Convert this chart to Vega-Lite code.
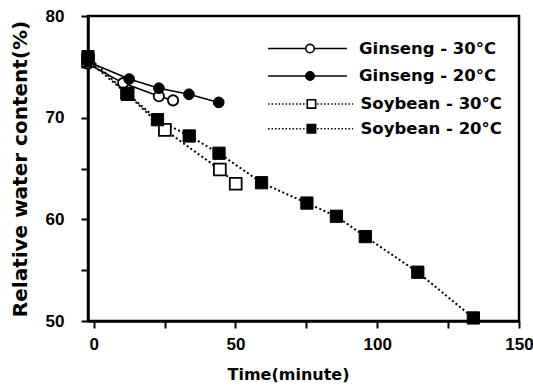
{
  "$schema": "https://vega.github.io/schema/vega-lite/v6.json",
  "width": 431,
  "height": 305,
  "autosize": "none",
  "padding": {"left": 88, "top": 16, "right": 14, "bottom": 71},
  "background": "white",
  "config": {
    "view": {"stroke": "black", "strokeWidth": 2.5},
    "axis": {
      "grid": false,
      "domainColor": "black",
      "domainWidth": 2.5,
      "tickColor": "black",
      "tickWidth": 2,
      "tickSize": 7,
      "labelColor": "black",
      "titleColor": "black",
      "labelFont": "Liberation Sans",
      "labelFontWeight": "bold",
      "labelFontSize": 17,
      "titleFont": "DejaVu Sans",
      "titleFontWeight": "bold"
    }
  },
  "datasets": {
    "obs": [
      {"series": "Ginseng-30", "time": -2, "water": 75.3},
      {"series": "Ginseng-30", "time": 10.4, "water": 73.4},
      {"series": "Ginseng-30", "time": 23, "water": 72.1},
      {"series": "Ginseng-30", "time": 28, "water": 71.7},
      {"series": "Ginseng-20", "time": -2, "water": 75.5},
      {"series": "Ginseng-20", "time": 12.5, "water": 73.8},
      {"series": "Ginseng-20", "time": 23, "water": 72.9},
      {"series": "Ginseng-20", "time": 33.6, "water": 72.3},
      {"series": "Ginseng-20", "time": 44.1, "water": 71.5},
      {"series": "Soybean-30", "time": -2, "water": 75.6},
      {"series": "Soybean-30", "time": 12, "water": 72.3},
      {"series": "Soybean-30", "time": 25.1, "water": 68.8},
      {"series": "Soybean-30", "time": 44.5, "water": 64.9},
      {"series": "Soybean-30", "time": 50.1, "water": 63.5},
      {"series": "Soybean-20", "time": -2, "water": 76.0},
      {"series": "Soybean-20", "time": 11.7, "water": 72.4},
      {"series": "Soybean-20", "time": 22.5, "water": 69.8},
      {"series": "Soybean-20", "time": 33.7, "water": 68.2},
      {"series": "Soybean-20", "time": 44.2, "water": 66.5},
      {"series": "Soybean-20", "time": 59.2, "water": 63.6},
      {"series": "Soybean-20", "time": 75.2, "water": 61.6},
      {"series": "Soybean-20", "time": 85.6, "water": 60.3},
      {"series": "Soybean-20", "time": 95.8, "water": 58.3},
      {"series": "Soybean-20", "time": 114.3, "water": 54.8},
      {"series": "Soybean-20", "time": 133.9, "water": 50.3}
    ],
    "leg": [
      {"series": "Ginseng-30", "part": "line", "time": 61.5, "water": 76.8},
      {"series": "Ginseng-30", "part": "line", "time": 89.3, "water": 76.8},
      {"series": "Ginseng-20", "part": "line", "time": 61.5, "water": 74.1},
      {"series": "Ginseng-20", "part": "line", "time": 89.3, "water": 74.1},
      {"series": "Soybean-30", "part": "line", "time": 61.5, "water": 71.35},
      {"series": "Soybean-30", "part": "line", "time": 91.5, "water": 71.35},
      {"series": "Soybean-20", "part": "line", "time": 61.5, "water": 68.9},
      {"series": "Soybean-20", "part": "line", "time": 91.5, "water": 68.9},
      {"series": "Ginseng-30", "part": "mark", "time": 76.3, "water": 76.8, "label": "Ginseng - 30°C"},
      {"series": "Ginseng-20", "part": "mark", "time": 76.3, "water": 74.1, "label": "Ginseng - 20°C"},
      {"series": "Soybean-30", "part": "mark", "time": 76.8, "water": 71.35, "label": "Soybean - 30°C"},
      {"series": "Soybean-20", "part": "mark", "time": 76.8, "water": 68.9, "label": "Soybean - 20°C"}
    ]
  },
  "encoding": {
    "x": {
      "field": "time",
      "type": "quantitative",
      "scale": {"domain": [-2, 150], "nice": false, "zero": false},
      "axis": {
        "title": "Time(minute)",
        "titleFontSize": 16,
        "titlePadding": 14,
        "titleX": 200,
        "values": [0, 25, 50, 75, 100, 125, 150],
        "labelExpr": "datum.value % 50 == 0 ? datum.label : ''",
        "labelPadding": 8,
        "labelFlush": false
      }
    },
    "y": {
      "field": "water",
      "type": "quantitative",
      "scale": {"domain": [50, 80], "nice": false, "zero": false},
      "axis": {
        "title": "Relative water content(%)",
        "titleFontSize": 20,
        "titlePadding": 15,
        "values": [50, 55, 60, 65, 70, 75, 80],
        "labelExpr": "datum.value % 10 == 0 ? datum.label : ''",
        "labelPadding": 17,
        "labelFlush": false
      }
    }
  },
  "layer": [
    {
      "data": {"name": "obs"},
      "transform": [{"filter": "indexof(datum.series, 'Ginseng') == 0"}],
      "mark": {"type": "line", "color": "black", "strokeWidth": 1.6},
      "encoding": {"detail": {"field": "series"}}
    },
    {
      "data": {"name": "obs"},
      "transform": [{"filter": "indexof(datum.series, 'Soybean') == 0"}],
      "mark": {"type": "line", "color": "black", "strokeWidth": 2, "strokeDash": [2, 2.5]},
      "encoding": {"detail": {"field": "series"}}
    },
    {
      "data": {"name": "obs"},
      "transform": [{"filter": "datum.series == 'Ginseng-30'"}],
      "mark": {"type": "point", "shape": "circle", "filled": true, "fill": "white", "stroke": "black", "strokeWidth": 1.8, "size": 105, "opacity": 1}
    },
    {
      "data": {"name": "obs"},
      "transform": [{"filter": "datum.series == 'Soybean-30'"}],
      "mark": {"type": "point", "shape": "square", "filled": true, "fill": "white", "stroke": "black", "strokeWidth": 1.8, "size": 140, "opacity": 1}
    },
    {
      "data": {"name": "obs"},
      "transform": [{"filter": "datum.series == 'Ginseng-20'"}],
      "mark": {"type": "point", "shape": "circle", "filled": true, "fill": "black", "stroke": "black", "strokeWidth": 1, "size": 115, "opacity": 1}
    },
    {
      "data": {"name": "obs"},
      "transform": [{"filter": "datum.series == 'Soybean-20'"}],
      "mark": {"type": "point", "shape": "square", "filled": true, "fill": "black", "stroke": "black", "strokeWidth": 1, "size": 150, "opacity": 1}
    },
    {
      "data": {"name": "leg"},
      "transform": [{"filter": "datum.part == 'line' && indexof(datum.series, 'Ginseng') == 0"}],
      "mark": {"type": "line", "color": "black", "strokeWidth": 1.6},
      "encoding": {"detail": {"field": "series"}}
    },
    {
      "data": {"name": "leg"},
      "transform": [{"filter": "datum.part == 'line' && indexof(datum.series, 'Soybean') == 0"}],
      "mark": {"type": "line", "color": "black", "strokeWidth": 1.5, "strokeDash": [1.5, 2]},
      "encoding": {"detail": {"field": "series"}}
    },
    {
      "data": {"name": "leg"},
      "transform": [{"filter": "datum.part == 'mark'"}],
      "mark": {"type": "point", "filled": true, "stroke": "black", "strokeWidth": 1.6, "size": 70, "opacity": 1},
      "encoding": {
        "shape": {"field": "series", "type": "nominal", "scale": {"domain": ["Ginseng-30", "Ginseng-20", "Soybean-30", "Soybean-20"], "range": ["circle", "circle", "square", "square"]}, "legend": null},
        "fill": {"field": "series", "type": "nominal", "scale": {"domain": ["Ginseng-30", "Ginseng-20", "Soybean-30", "Soybean-20"], "range": ["white", "black", "white", "black"]}, "legend": null}
      }
    },
    {
      "data": {"name": "leg"},
      "transform": [{"filter": "datum.part == 'mark'"}],
      "mark": {"type": "text", "align": "left", "baseline": "middle", "dx": 49, "font": "DejaVu Sans", "fontWeight": "bold", "fontSize": 16.5, "color": "black"},
      "encoding": {"text": {"field": "label"}}
    }
  ]
}
